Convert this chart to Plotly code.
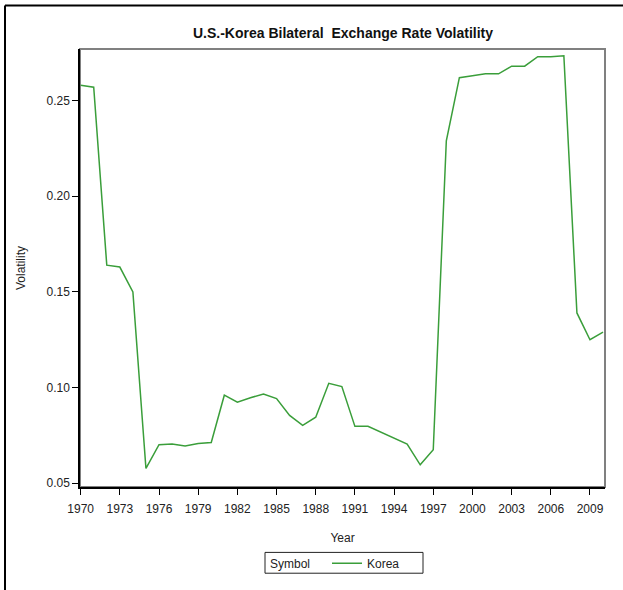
import plotly.graph_objects as go

# values
years = list(range(1970, 2011))
korea = [0.258, 0.257, 0.164, 0.163, 0.150, 0.0577, 0.0701, 0.0705, 0.0695, 0.0708,
         0.0713, 0.0960, 0.0923, 0.0947, 0.0966, 0.0942, 0.0854, 0.0802, 0.0845, 0.1022,
         0.1005, 0.0797, 0.0797, 0.0766, 0.0735, 0.0704, 0.0596, 0.0675, 0.229, 0.262,
         0.263, 0.264, 0.264, 0.268, 0.268, 0.273, 0.273, 0.2735, 0.139, 0.125, 0.129]

x_ticks = list(range(1970, 2010, 3))
y_ticks = [0.05, 0.10, 0.15, 0.20, 0.25]

W, H = 623, 590
L, R, T, B = 80, 18, 49, 99
pw, ph = W - L - R, H - T - B

font = "Liberation Sans, Arial, sans-serif"


def px_x(v):
    return (v - L) / pw


def px_y(v):
    return (T + ph - v) / ph


fig = go.Figure()
fig.add_trace(go.Scatter(x=years, y=korea, mode="lines", name="Korea",
                         line=dict(color="#3a9e3a", width=1.5)))

fig.update_layout(
    width=W, height=H,
    margin=dict(l=L, r=R, t=T, b=B),
    paper_bgcolor="white", plot_bgcolor="white",
    font=dict(family=font, size=12, color="#222"),
    title=dict(text="<b>U.S.-Korea Bilateral  Exchange Rate Volatility</b>",
               x=px_x(343), xref="paper", xanchor="center",
               y=1 - 33 / H, yanchor="middle",
               font=dict(size=14, color="#111")),
    showlegend=True,
    legend=dict(orientation="h", x=px_x(327), xanchor="left",
                y=px_y(568), yanchor="middle",
                borderwidth=0, bgcolor="rgba(0,0,0,0)",
                font=dict(size=12)),
    annotations=[
        dict(text="Symbol", xref="paper", yref="paper", x=px_x(268), y=px_y(569),
             xanchor="left", yanchor="middle", showarrow=False, font=dict(size=12)),
    ],
    shapes=[
        # plot frame (grey top/right)
        dict(type="rect", xref="paper", yref="paper", x0=0, x1=1, y0=0, y1=1,
             line=dict(color="#808080", width=2), layer="below"),
        # legend box
        dict(type="rect", xref="paper", yref="paper",
             x0=px_x(265), x1=px_x(423), y0=px_y(578), y1=px_y(557),
             line=dict(color="#222", width=1)),
        # outer page border
        dict(type="line", xref="paper", yref="paper",
             x0=px_x(5), x1=px_x(W + 5), y0=px_y(5), y1=px_y(5),
             line=dict(color="black", width=2)),
        dict(type="line", xref="paper", yref="paper",
             x0=px_x(5), x1=px_x(5), y0=px_y(5), y1=px_y(H + 5),
             line=dict(color="black", width=2)),
    ],
)

fig.update_xaxes(range=[1969.95, 2010.15], tickvals=x_ticks, ticks="outside",
                 ticklen=6, tickcolor="black", showline=True, linecolor="black",
                 linewidth=1.5, showgrid=False, zeroline=False, ticklabelstandoff=4,
                 title=dict(text="Year", standoff=18, font=dict(size=12)))
fig.update_yaxes(range=[0.048, 0.277], tickvals=y_ticks, tickformat=".2f",
                 ticks="outside", ticklen=6, tickcolor="black", showline=True,
                 linecolor="black", linewidth=1.5, showgrid=False, zeroline=False,
                 title=dict(text="Volatility", standoff=18, font=dict(size=12)))

fig.write_html("out.html", config={"displayModeBar": False},
               post_script="document.body.style.margin='0';")
